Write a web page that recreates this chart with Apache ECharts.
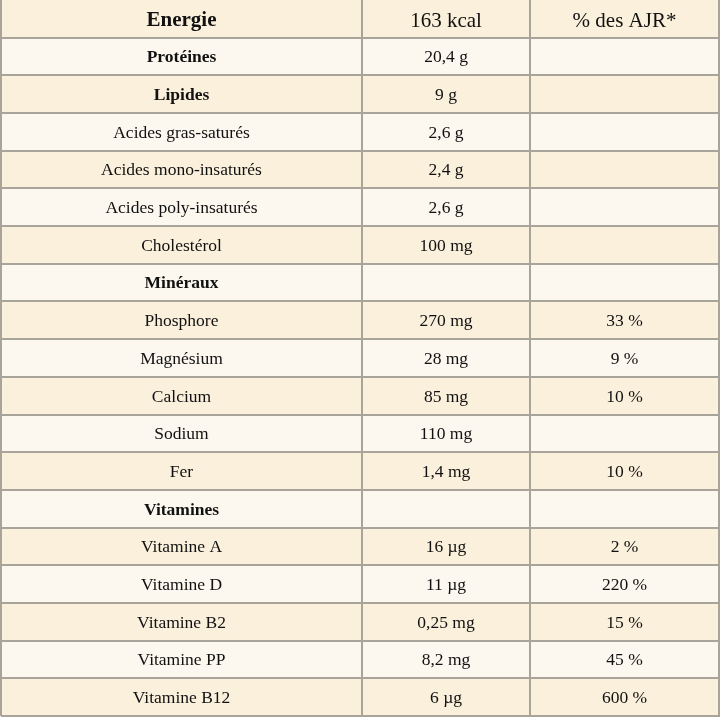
<!DOCTYPE html>
<html>
<head>
    <meta charset="utf-8"/>
    <title>Valeurs nutritionnelles</title>
    <script src="https://cdn.jsdelivr.net/npm/echarts@6/dist/echarts.min.js"></script>
    <style>
        html, body { margin: 0; padding: 0; background: #fff; }
        #main { width: 720px; height: 717px; }
    </style>
</head>
<body>
<div id="main"></div>
<script>
    // données du tableau
    var headers = ['Energie', '163 kcal', '% des AJR*'];
    var nutrients = ['Protéines', 'Lipides', 'Acides gras-saturés', 'Acides mono-insaturés', 'Acides poly-insaturés',
        'Cholestérol', 'Minéraux', 'Phosphore', 'Magnésium', 'Calcium', 'Sodium', 'Fer', 'Vitamines',
        'Vitamine A', 'Vitamine D', 'Vitamine B2', 'Vitamine PP', 'Vitamine B12'];
    var amounts = ['20,4 g', '9 g', '2,6 g', '2,4 g', '2,6 g', '100 mg', '', '270 mg', '28 mg', '85 mg',
        '110 mg', '1,4 mg', '', '16 µg', '11 µg', '0,25 mg', '8,2 mg', '6 µg'];
    var ajr = ['', '', '', '', '', '', '', '33 %', '9 %', '10 %', '', '10 %', '', '2 %', '220 %', '15 %', '45 %', '600 %'];
    var boldNames = ['Protéines', 'Lipides', 'Minéraux', 'Vitamines'];

    // mise en page
    var colEdges = [0, 362, 530, 720];
    var beige = '#fbf0dc';
    var light = '#fcf8ef';
    var borderColor = '#a8a499';
    var fontFamily = 'Liberation Serif';

    var rowNames = [headers[0]].concat(nutrients);
    var cells = [];
    headers.forEach(function (t, c) {
        cells.push({value: [c, 0], text: t, bold: c === 0, size: 21});
    });
    nutrients.forEach(function (name, i) {
        var r = i + 1;
        var bold = boldNames.indexOf(name) !== -1;
        cells.push({value: [0, r], text: name, bold: bold, size: 17.5});
        cells.push({value: [1, r], text: amounts[i], bold: false, size: 17.5});
        cells.push({value: [2, r], text: ajr[i], bold: false, size: 17.5});
    });
    var rowIdx = rowNames.map(function (n, i) { return [0, i]; });

    // coins d'une cellule, arrondis au pixel
    var cellBox = function (api, col, row) {
        var h = api.size([0, 1])[1];
        var p0 = api.coord([colEdges[col], row]);
        var p1 = api.coord([colEdges[col + 1], row]);
        var y0 = Math.round(p0[1] - h / 2), y1 = Math.round(p0[1] + h / 2);
        var x0 = Math.round(p0[0]), x1 = Math.round(p1[0]);
        return {x0: x0, x1: x1, y0: y0, y1: y1};
    };

    var renderCell = function (params, api) {
        var col = api.value(0);
        var row = api.value(1);
        var b = cellBox(api, col, row);
        var cell = cells[params.dataIndex];
        return {
            type: 'rect',
            shape: {x: b.x0, y: b.y0, width: b.x1 - b.x0, height: b.y1 - b.y0},
            style: {fill: row % 2 === 0 ? beige : light},
            textContent: {
                style: {
                    text: cell.text,
                    fill: '#111',
                    fontSize: cell.size,
                    fontWeight: cell.bold ? 'bold' : 'normal',
                    fontFamily: fontFamily
                }
            },
            textConfig: {position: 'inside', offset: [0, row === 0 ? 2 : 1]}
        };
    };

    // bordures : ligne du bas + traits verticaux de chaque rangée
    var renderBorder = function (params, api) {
        var row = api.value(1);
        var first = cellBox(api, 0, row);
        var last = cellBox(api, colEdges.length - 2, row);
        var children = [{
            type: 'rect',
            shape: {x: first.x0, y: first.y1 - 1, width: last.x1 - first.x0 + 1, height: 2},
            style: {fill: borderColor}
        }];
        for (var c = 0; c < colEdges.length; c++) {
            var p = api.coord([colEdges[c], row]);
            children.push({
                type: 'rect',
                shape: {x: Math.round(p[0]) - 1, y: first.y0, width: 2, height: first.y1 - first.y0},
                style: {fill: borderColor}
            });
        }
        return {type: 'group', children: children};
    };

    var chart = echarts.init(document.getElementById('main'));
    chart.setOption({
        animation: false,
        textStyle: {fontFamily: fontFamily},
        grid: {left: 1, right: 1, top: 0, bottom: 1},
        xAxis: {type: 'value', min: 0, max: 720, show: false},
        yAxis: {type: 'category', data: rowNames, inverse: true, show: false},
        series: [{
            type: 'custom',
            renderItem: renderCell,
            silent: true,
            data: cells
        }, {
            type: 'custom',
            renderItem: renderBorder,
            silent: true,
            z: 3,
            data: rowIdx
        }]
    });
</script>
</body>
</html>
